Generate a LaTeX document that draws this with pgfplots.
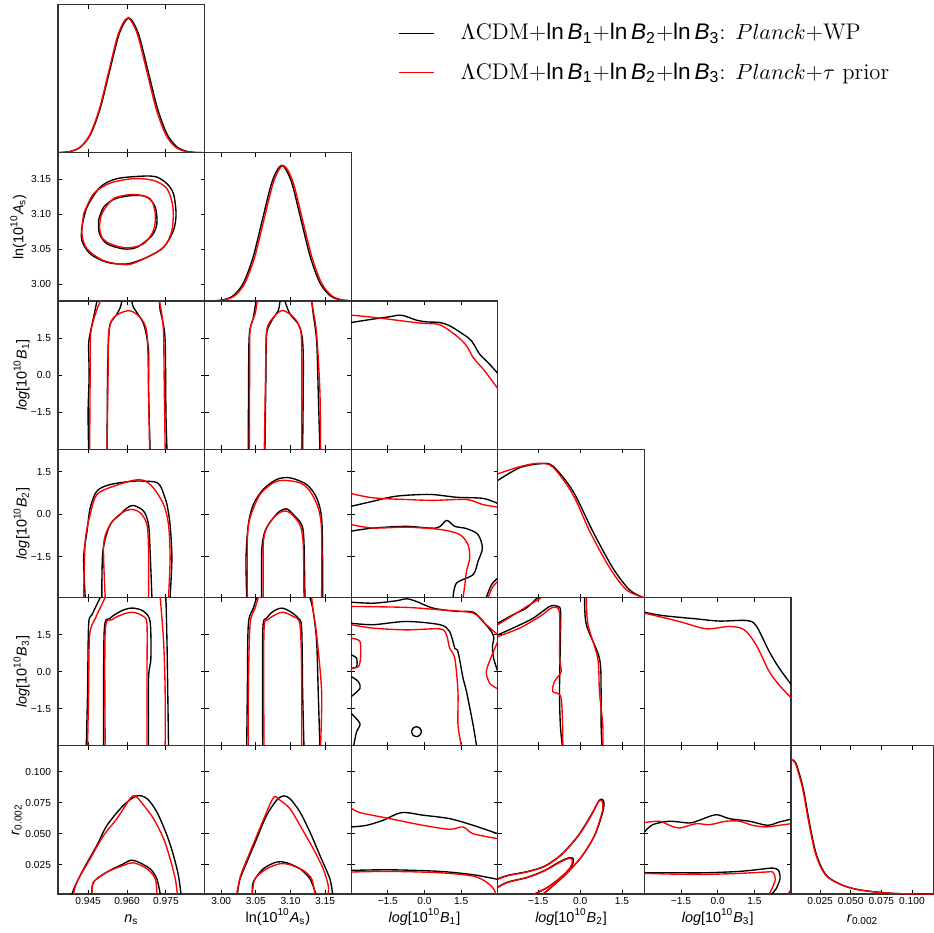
\documentclass[border=0pt]{standalone}
\usepackage{fontspec}
\setsansfont{Liberation Sans}
\usepackage{pgfplots}
\pgfplotsset{compat=1.18}
\pgfplotsset{
  tri/.style={scale only axis, width=73.3pt, height=74.125pt, anchor=north west,
    axis line style={line width=0.6pt, black!80},
    every tick/.style={black, line width=0.45pt}, major tick length=2pt,
    xticklabels={,,,,}, yticklabels={,,,,},
    tick label style={font=\sffamily\fontsize{5.1}{6}\selectfont},
    xticklabel style={yshift=2pt},
    label style={font=\sffamily\fontsize{7.2}{8.5}\selectfont},
    x label style={at={(axis description cs:0.5,-0.189)}, anchor=base}},
  ylab/.style={y label style={at={(axis description cs:#1,0.5)}, anchor=center}},
  diag/.style={tri, ymin=0, ymax=1, ytick=\empty},
  blk/.style={black, line width=0.68pt, smooth, mark=none},
  rd/.style={red, line width=0.68pt, smooth, mark=none},
  nsx/.style={xmin=0.9334, xmax=0.9899, xtick={0.945,0.960,0.975}},
  asx/.style={xmin=2.976, xmax=3.1876, xtick={3.00,3.05,3.10,3.15}},
  asy/.style={ymin=2.976, ymax=3.1876, ytick={3.00,3.05,3.10,3.15}},
  b1x/.style={xmin=-3, xmax=3, xtick={-1.5,0,1.5}},
  b1y/.style={ymin=-3, ymax=3, ytick={-1.5,0,1.5}},
  b2x/.style={xmin=-2.95, xmax=2.3, xtick={-1.5,0,1.5}},
  b2y/.style={ymin=-2.95, ymax=2.3, ytick={-1.5,0,1.5}},
  b3x/.style={xmin=-3, xmax=3, xtick={-1.5,0,1.5}},
  b3y/.style={ymin=-3, ymax=3, ytick={-1.5,0,1.5}},
  rx/.style={xmin=0.0012, xmax=0.1180, xtick={0.025,0.05,0.075,0.1}},
  ry/.style={ymin=0.0012, ymax=0.1212, ytick={0.025,0.05,0.075,0.1}},
  bl/.style={xticklabels={−1.5,0.0,1.5}},
  lb/.style={yticklabels={−1.5,0.0,1.5}},
}
\newcommand{\lnB}[1]{{\sffamily ln\,\textit{B}\textsubscript{#1}}}
\begin{document}
\begin{tikzpicture}
\path[use as bounding box] (0,0) rectangle (467pt,-466.5pt);
% ---------------- row 0
\begin{axis}[diag, at={(29pt,-2.25pt)}, nsx, ymax=1.1,
  legend style={at={(2.321,0.882)}, anchor=north west, draw=none, fill=none, inner sep=0pt,
    nodes={inner sep=0.5pt},
    font=\fontsize{11.3}{13}\selectfont, row sep=9pt, cells={anchor=west},
    /tikz/every odd column/.style={column sep=12.5pt}},
  legend image code/.code={\draw[#1, line width=0.55pt] (0pt,0pt) -- (17.5pt,0pt);}]
\addplot[blk] coordinates {(0.9334,0.0013)(0.9348,0.0022)(0.9385,0.0111)(0.9422,0.0439)(0.9459,0.1353)(0.9496,0.3247)(0.9533,0.6065)(0.9570,0.8825)(0.9607,1)(0.9644,0.8825)(0.9681,0.6065)(0.9718,0.3247)(0.9755,0.1353)(0.9792,0.0439)(0.9829,0.0111)(0.9866,0.0022)(0.9899,0.0004)};
\addlegendentry{$\Lambda$CDM+\lnB{1}+\lnB{2}+\lnB{3}: $Planck$+WP}
\addplot[rd] coordinates {(0.9333,0.001)(0.9347,0.0022)(0.9384,0.0111)(0.94205,0.0439)(0.9457,0.1353)(0.94935,0.3247)(0.9530,0.6065)(0.95665,0.8825)(0.9603,1)(0.96395,0.8825)(0.9676,0.6065)(0.97125,0.3247)(0.9749,0.1353)(0.97855,0.0439)(0.9822,0.0111)(0.98585,0.0022)(0.9895,0.0003)};
\addlegendentry{$\Lambda$CDM+\lnB{1}+\lnB{2}+\lnB{3}: $Planck$+$\tau$ prior}
\end{axis}
% ---------------- row 1
\begin{axis}[tri, at={(29pt,-76.375pt)}, nsx, asy, yticklabels={3.00,3.05,3.10,3.15},
  ylab=-0.271, ylabel={ln(10\textsuperscript{10}\textit{A}\textsubscript{s})}]
\addplot[blk] coordinates {(0.9426,3.0813)(0.9446,3.110)(0.9497,3.1386)(0.9561,3.1506)(0.9664,3.1543)(0.9715,3.1529)(0.9754,3.1434)(0.9779,3.1291)(0.9789,3.1005)(0.9779,3.0766)(0.9741,3.0527)(0.9677,3.0384)(0.9600,3.0289)(0.9523,3.0312)(0.9458,3.0433)(0.9426,3.0623)(0.9426,3.0813)};
\addplot[blk] coordinates {(0.9490,3.0909)(0.9510,3.110)(0.9555,3.122)(0.9625,3.1267)(0.9677,3.1243)(0.9709,3.110)(0.9715,3.0862)(0.9696,3.0694)(0.9638,3.0527)(0.9587,3.0504)(0.9523,3.0576)(0.9494,3.0719)(0.9490,3.0909)};
\addplot[rd] coordinates {(0.9433,3.1005)(0.9471,3.1291)(0.9535,3.1443)(0.9625,3.1506)(0.9702,3.1481)(0.9754,3.1363)(0.9777,3.1099)(0.9773,3.0766)(0.9741,3.0527)(0.9664,3.0361)(0.9600,3.0279)(0.9510,3.0337)(0.9446,3.0504)(0.9426,3.0719)(0.9433,3.1005)};
\addplot[rd] coordinates {(0.9494,3.0814)(0.9503,3.1005)(0.9548,3.122)(0.9625,3.1281)(0.9689,3.122)(0.9709,3.1005)(0.9702,3.0766)(0.9664,3.0576)(0.9600,3.0518)(0.9535,3.0576)(0.9503,3.067)(0.9494,3.0814)};
\end{axis}
\begin{axis}[diag, at={(102.3pt,-76.375pt)}, asx, ymax=1.093]
\addplot[blk] coordinates {(2.9773,0.0003)(2.9910,0.0022)(3.0048,0.0111)(3.0186,0.0439)(3.0323,0.1353)(3.0461,0.3247)(3.0598,0.6065)(3.0736,0.8825)(3.0873,1)(3.1011,0.8825)(3.1148,0.6065)(3.1286,0.3247)(3.1423,0.1353)(3.1561,0.0439)(3.1698,0.0111)(3.1836,0.0022)(3.1877,0.0013)};
\addplot[rd] coordinates {(2.9795,0.0003)(2.9933,0.0022)(3.0070,0.0111)(3.0208,0.0439)(3.0345,0.1353)(3.0483,0.3247)(3.0620,0.6065)(3.0758,0.8825)(3.0895,1)(3.1033,0.8825)(3.1170,0.6065)(3.1308,0.3247)(3.1445,0.1353)(3.1583,0.0439)(3.1720,0.0111)(3.1858,0.0022)(3.1877,0.0016)};
\end{axis}
% ---------------- row 2
\begin{axis}[tri, at={(29pt,-150.5pt)}, nsx, b1y, lb, ylab=-0.248, ylabel={\textit{log}[10\textsuperscript{10}\textit{B}\textsubscript{1}]}]
\addplot[blk] coordinates {(0.9452,-3)(0.9450,-1.5)(0.9454,0)(0.9452,1.2)(0.9458,1.7)(0.9471,2.33)(0.9484,3)};
\addplot[blk] coordinates {(0.9523,-3)(0.9525,0)(0.9529,1.39)(0.9535,2.07)(0.9561,2.47)(0.9574,2.74)(0.9580,3)};
\addplot[blk] coordinates {(0.9619,3)(0.9625,2.74)(0.9664,2.07)(0.9683,1.0)(0.9683,-0.64)(0.9689,-3)};
\addplot[blk] coordinates {(0.9754,-3)(0.9750,-1.5)(0.9747,1.39)(0.9737,2.2)(0.9728,2.61)(0.9725,3)};
\addplot[rd] coordinates {(0.9456,-3)(0.9458,0)(0.9460,1.66)(0.9478,2.47)(0.9497,3)};
\addplot[rd] coordinates {(0.9523,-3)(0.9527,0)(0.9529,1.66)(0.9548,2.33)(0.9606,2.61)(0.9651,2.33)(0.9677,1.66)(0.9683,-0.64)(0.9687,-3)};
\addplot[rd] coordinates {(0.9747,-3)(0.9743,0)(0.9741,1.66)(0.9735,2.4)(0.9725,3)};
\end{axis}
\begin{axis}[tri, at={(102.3pt,-150.5pt)}, asx, b1y]
\addplot[blk] coordinates {(3.0391,-3)(3.0395,0)(3.0406,1.66)(3.0463,2.33)(3.0502,3)};
\addplot[blk] coordinates {(3.0632,-3)(3.0645,0)(3.0656,1.66)(3.0728,2.2)(3.0823,2.61)(3.0848,3)};
\addplot[blk] coordinates {(3.0920,3)(3.0992,2.47)(3.1136,1.93)(3.1184,0.8)(3.1175,-3)};
\addplot[blk] coordinates {(3.1424,-3)(3.1400,-0.64)(3.1377,1.39)(3.1328,2.47)(3.1305,3)};
\addplot[rd] coordinates {(3.0406,-3)(3.0410,0)(3.0416,1.8)(3.0488,2.47)(3.0521,3)};
\addplot[rd] coordinates {(3.0622,-3)(3.0640,0)(3.0656,1.8)(3.0751,2.33)(3.0872,2.61)(3.0992,2.47)(3.1112,2.07)(3.1161,1.25)(3.1161,-3)};
\addplot[rd] coordinates {(3.1434,-3)(3.1424,-0.64)(3.1377,1.66)(3.1328,2.61)(3.1305,3)};
\end{axis}
\begin{axis}[diag, at={(175.6pt,-150.5pt)}, b1x]
\addplot[blk] coordinates {(-3,0.855)(-2.10,0.878)(-1.42,0.894)(-0.94,0.904)(-0.33,0.871)(0.08,0.859)(0.625,0.855)(1.03,0.833)(1.58,0.776)(1.92,0.732)(2.26,0.641)(2.6,0.585)(3,0.512)};
\addplot[rd] coordinates {(-3,0.905)(-1.83,0.885)(-0.74,0.862)(-0.06,0.849)(0.625,0.84)(1.31,0.765)(1.72,0.698)(1.99,0.619)(2.46,0.529)(3,0.409)};
\end{axis}
% ---------------- row 3
\begin{axis}[tri, at={(29pt,-224.625pt)}, nsx, b2y, lb, ylab=-0.248, ylabel={\textit{log}[10\textsuperscript{10}\textit{B}\textsubscript{2}]}]
\addplot[blk] coordinates {(0.9439,-2.95)(0.9433,-1.55)(0.9446,-0.60)(0.9458,0.22)(0.9484,0.82)(0.9535,1.05)(0.9625,1.17)(0.9690,1.16)(0.9715,1.12)(0.9730,0.98)(0.9741,0.72)(0.9754,0.34)(0.9766,-0.37)(0.9773,-1.55)(0.9766,-2.95)};
\addplot[blk] coordinates {(0.9503,-2.95)(0.9507,-1.31)(0.9535,-0.37)(0.9574,-0.01)(0.9600,0.22)(0.9625,0.31)(0.9664,0.11)(0.9683,-0.37)(0.9689,-1.31)(0.9696,-2.95)};
\addplot[rd] coordinates {(0.9433,-2.95)(0.9439,-0.96)(0.9458,-0.01)(0.9484,0.70)(0.9548,0.99)(0.9625,1.20)(0.9664,1.20)(0.9702,0.93)(0.9741,0.34)(0.9760,-0.37)(0.9766,-1.55)(0.9760,-2.95)};
\addplot[rd] coordinates {(0.9516,-2.95)(0.9510,-1.08)(0.9535,-0.37)(0.9580,0.05)(0.9619,0.17)(0.9651,0.05)(0.9677,-0.37)(0.9683,-1.31)(0.9683,-2.95)};
\end{axis}
\begin{axis}[tri, at={(102.3pt,-224.625pt)}, asx, b2y]
\addplot[blk] coordinates {(3.0368,-2.95)(3.0358,-1.55)(3.0391,-0.37)(3.0463,0.34)(3.0607,0.88)(3.0800,1.23)(3.0992,1.29)(3.1233,1.05)(3.1377,0.58)(3.1449,-0.13)(3.1463,-1.55)(3.1463,-2.95)};
\addplot[blk] coordinates {(3.0584,-2.95)(3.0584,-1.31)(3.0632,-0.60)(3.0751,-0.13)(3.0848,0.11)(3.0944,0.19)(3.1040,-0.01)(3.1161,-0.37)(3.1194,-0.96)(3.1208,-2.95)};
\addplot[rd] coordinates {(3.0377,-2.95)(3.0377,-0.96)(3.0416,-0.13)(3.0560,0.70)(3.0751,1.11)(3.0896,1.20)(3.1136,1.11)(3.1280,0.82)(3.1400,0.22)(3.1449,-0.60)(3.1449,-2.95)};
\addplot[rd] coordinates {(3.0607,-2.95)(3.0607,-1.08)(3.0656,-0.49)(3.0776,-0.07)(3.0896,0.11)(3.0992,0.05)(3.1136,-0.37)(3.1184,-1.08)(3.1194,-2.95)};
\end{axis}
\begin{axis}[tri, at={(175.6pt,-224.625pt)}, b1x, b2y]
\addplot[blk] coordinates {(-3,0.28)(-2.10,0.46)(-1.14,0.64)(0.22,0.70)(1.31,0.60)(2.39,0.56)(3,0.38)};
\addplot[blk] coordinates {(-3,-0.60)(-2.10,-0.49)(-0.74,-0.43)(0.49,-0.49)(0.90,-0.22)(1.24,-0.43)(1.72,-0.51)(2.19,-0.72)(2.37,-1.20)(2.19,-1.67)(1.99,-2.14)(1.31,-2.44)(1.17,-2.95)};
\addplot[blk] coordinates {(2.53,-2.95)(2.74,-2.50)(3,-2.26)};
\addplot[rd] coordinates {(-3,0.73)(-2.10,0.58)(-0.74,0.52)(0.35,0.49)(1.72,0.52)(2.39,0.34)(3,0.25)};
\addplot[rd] coordinates {(-3,-0.37)(-2.10,-0.49)(-0.74,-0.46)(0.63,-0.54)(1.44,-0.72)(1.78,-1.08)(1.85,-1.55)(1.72,-2.02)(1.65,-2.50)(1.58,-2.95)};
\addplot[rd] coordinates {(2.60,-2.95)(2.80,-2.56)(3,-2.38)};
\end{axis}
\begin{axis}[diag, at={(248.9pt,-224.625pt)}, b2x]
\addplot[blk] coordinates {(-2.95,0.790)(-2.17,0.875)(-1.45,0.902)(-0.98,0.887)(-0.26,0.718)(0.45,0.447)(1.17,0.199)(1.76,0.053)(2.24,0.001)(2.3,0)};
\addplot[rd] coordinates {(-2.95,0.834)(-2.17,0.882)(-1.51,0.905)(-0.98,0.880)(-0.26,0.695)(0.34,0.447)(1.06,0.199)(1.65,0.053)(2.24,0.001)(2.3,0)};
\end{axis}
% ---------------- row 4
\begin{axis}[tri, at={(29pt,-298.75pt)}, nsx, b3y, lb, ylab=-0.248, ylabel={\textit{log}[10\textsuperscript{10}\textit{B}\textsubscript{3}]}]
\addplot[blk] coordinates {(0.9443,-3)(0.9448,-0.81)(0.9452,1.90)(0.9465,2.30)(0.9497,3)};
\addplot[blk] coordinates {(0.9510,-3)(0.9512,1.62)(0.9535,2.16)(0.9587,2.50)(0.9625,2.57)(0.9664,2.44)(0.9689,2.03)(0.9692,0.54)(0.9683,-0.27)(0.9683,-3)};
\addplot[blk] coordinates {(0.9760,-3)(0.9757,-0.81)(0.9754,1.22)(0.9750,3)};
\addplot[rd] coordinates {(0.9448,-3)(0.9452,-0.81)(0.9456,1.49)(0.9478,2.16)(0.9516,3)};
\addplot[rd] coordinates {(0.9516,-3)(0.9516,1.62)(0.9542,2.10)(0.9587,2.33)(0.9625,2.40)(0.9664,2.23)(0.9677,1.90)(0.9677,-0.13)(0.9677,-3)};
\addplot[rd] coordinates {(0.9747,-3)(0.9747,-0.81)(0.9741,1.22)(0.9728,3)};
\end{axis}
\begin{axis}[tri, at={(102.3pt,-298.75pt)}, asx, b3y]
\addplot[blk] coordinates {(3.0368,-3)(3.0377,-0.81)(3.0391,1.90)(3.0463,2.57)(3.0512,3)};
\addplot[blk] coordinates {(3.0599,-3)(3.0599,1.62)(3.0656,2.16)(3.0751,2.44)(3.0872,2.57)(3.0992,2.44)(3.1112,2.16)(3.1161,1.76)(3.1175,-0.81)(3.1194,-3)};
\addplot[blk] coordinates {(3.1424,-3)(3.1400,-0.81)(3.1377,1.22)(3.1328,2.44)(3.1280,3)};
\addplot[rd] coordinates {(3.0391,-3)(3.0391,-0.81)(3.0416,1.90)(3.0488,2.57)(3.0535,3)};
\addplot[rd] coordinates {(3.0617,-3)(3.0617,1.62)(3.0679,2.10)(3.0800,2.33)(3.0896,2.40)(3.1040,2.23)(3.1136,1.90)(3.1161,-0.13)(3.1161,-3)};
\addplot[rd] coordinates {(3.1434,-3)(3.1449,-0.81)(3.1377,1.49)(3.1328,2.44)(3.1305,3)};
\end{axis}
\begin{axis}[tri, at={(175.6pt,-298.75pt)}, b1x, b3y]
\addplot[blk] coordinates {(-3,2.81)(-2.10,2.77)(-1.14,2.87)(-0.74,2.95)(-0.33,2.84)(0.35,2.57)(1.31,2.44)(1.99,2.41)(2.39,2.03)(2.74,1.62)(2.84,1.35)(2.78,1.02)(2.83,0.54)(3,0.00)};
\addplot[blk] coordinates {(-3,1.96)(-2.10,1.90)(-0.74,2.03)(0.63,1.90)(1.03,1.62)(1.24,0.95)(1.37,0.81)(1.58,-0.27)(1.72,-0.81)(1.99,-2.16)(2.13,-3)};
\addplot[blk] coordinates {(-3,0.68)(-2.78,0.54)(-2.78,0.20)(-3,0.14)};
\addplot[blk] coordinates {(-3,-0.20)(-2.71,-0.40)(-2.64,-0.68)(-3,-1.01)};
\addplot[blk] coordinates {(-3,-1.69)(-2.64,-2.10)(-2.78,-2.43)(-2.90,-3)};
\addplot[blk] coordinates {(-0.53,-2.43)(-0.47,-2.29)(-0.33,-2.23)(-0.19,-2.29)(-0.13,-2.43)(-0.19,-2.57)(-0.33,-2.63)(-0.47,-2.57)(-0.53,-2.43)};
\addplot[rd] coordinates {(-3,2.64)(-0.74,2.60)(0.63,2.50)(1.99,2.37)(2.53,1.90)(3,1.49)};
\addplot[rd] coordinates {(3,1.22)(2.74,0.61)(2.53,0.00)(2.67,-0.47)(3,-0.70)};
\addplot[rd] coordinates {(-3,1.90)(-2.10,1.76)(-0.74,1.69)(0.63,1.73)(0.90,1.49)(1.03,0.95)(1.24,0.54)(1.37,-0.81)(1.37,-2.16)(1.51,-3)};
\addplot[rd] coordinates {(-3,1.35)(-2.64,1.22)(-2.62,0.54)(-2.71,0.20)(-3,0.14)};
\end{axis}
\begin{axis}[tri, at={(248.9pt,-298.75pt)}, b2x, b3y]
\addplot[blk] coordinates {(-2.95,1.49)(-2.41,1.76)(-1.69,2.16)(-1.09,2.64)(-0.80,2.64)(-0.70,2.44)(-0.71,1.22)(-0.74,-0.81)(-0.71,-2.16)(-0.64,-3)};
\addplot[blk] coordinates {(-2.95,1.96)(-2.41,2.30)(-1.93,2.57)(-1.57,2.95)(-1.5,3)};
\addplot[blk] coordinates {(0.16,3)(0.22,1.90)(0.69,0.54)(0.75,-0.81)(0.75,-2.16)(0.78,-3)};
\addplot[rd] coordinates {(-2.95,1.42)(-2.17,1.76)(-1.45,2.23)(-0.98,2.60)(-0.74,2.37)(-0.74,0.54)(-0.68,0.00)(-0.92,-0.40)(-0.98,-0.81)(-0.68,-1.08)(-0.62,-3)};
\addplot[rd] coordinates {(-2.95,1.90)(-2.28,2.37)(-1.81,2.71)(-1.45,2.95)(-1.4,3)};
\addplot[rd] coordinates {(0.22,3)(0.28,1.90)(0.63,0.54)(0.69,-0.81)(0.81,-2.16)(0.81,-3)};
\end{axis}
\begin{axis}[diag, at={(322.2pt,-298.75pt)}, b3x]
\addplot[blk] coordinates {(-3,0.901)(-2.25,0.878)(-0.88,0.856)(0.07,0.841)(1.16,0.845)(1.57,0.811)(2.11,0.635)(2.52,0.523)(3,0.415)};
\addplot[rd] coordinates {(-3,0.895)(-1.57,0.838)(-0.47,0.789)(0.48,0.805)(1.09,0.782)(1.57,0.681)(2.11,0.5)(2.52,0.409)(3,0.324)};
\end{axis}
% ---------------- row 5
\begin{axis}[tri, at={(29pt,-372.875pt)}, nsx, ry, yticklabels={0.025,0.050,0.075,0.100}, xticklabels={0.945,0.960,0.975},
  ylab=-0.282, ylabel={\textit{r}\textsubscript{0.002}}, xlabel={\textit{n}\textsubscript{s}}]
\addplot[blk] coordinates {(0.9388,0.0012)(0.9401,0.0082)(0.9433,0.0216)(0.9484,0.0406)(0.9523,0.0568)(0.9587,0.0731)(0.9638,0.0806)(0.9677,0.0784)(0.9715,0.0676)(0.9754,0.0487)(0.9779,0.0325)(0.9798,0.0163)(0.9808,0.0012)};
\addplot[blk] coordinates {(0.9465,0.0012)(0.9471,0.0109)(0.9523,0.0190)(0.9587,0.0257)(0.9612,0.0284)(0.9638,0.0276)(0.9689,0.0216)(0.9715,0.0135)(0.9728,0.0012)};
\addplot[rd] coordinates {(0.9394,0.0012)(0.9407,0.0109)(0.9458,0.0298)(0.9510,0.0487)(0.9561,0.0622)(0.9612,0.0784)(0.9632,0.0806)(0.9664,0.0731)(0.9702,0.0622)(0.9741,0.0460)(0.9766,0.0298)(0.9786,0.0135)(0.9794,0.0012)};
\addplot[rd] coordinates {(0.9465,0.0012)(0.9471,0.0109)(0.9523,0.0190)(0.9587,0.0244)(0.9625,0.0265)(0.9677,0.0216)(0.9709,0.0135)(0.9715,0.0012)};
\end{axis}
\begin{axis}[tri, at={(102.3pt,-372.875pt)}, asx, ry, xticklabels={3.00,3.05,3.10,3.15},
  xlabel={ln(10\textsuperscript{10}\textit{A}\textsubscript{s})}]
\addplot[blk] coordinates {(3.0233,0.0012)(3.0272,0.0135)(3.0391,0.0298)(3.0512,0.0460)(3.0656,0.0650)(3.0800,0.0771)(3.0896,0.0806)(3.0992,0.0784)(3.1136,0.0676)(3.1280,0.0514)(3.1424,0.0325)(3.1568,0.0135)(3.1607,0.0012)};
\addplot[blk] coordinates {(3.0449,0.0012)(3.0463,0.0109)(3.0607,0.0216)(3.0800,0.0271)(3.0944,0.0265)(3.1136,0.0216)(3.1280,0.0135)(3.1367,0.0012)};
\addplot[rd] coordinates {(3.0224,0.0012)(3.0281,0.0163)(3.0416,0.0352)(3.0535,0.0514)(3.0656,0.0676)(3.0762,0.0798)(3.0848,0.0771)(3.0992,0.0703)(3.1136,0.0568)(3.1328,0.0379)(3.1472,0.0216)(3.1544,0.0082)(3.1544,0.0012)};
\addplot[rd] coordinates {(3.0449,0.0012)(3.0488,0.0135)(3.0656,0.0216)(3.0848,0.0257)(3.0992,0.0249)(3.1184,0.0203)(3.1305,0.0135)(3.1352,0.0012)};
\end{axis}
\begin{axis}[tri, at={(175.6pt,-372.875pt)}, b1x, ry, bl,
  xlabel={\textit{log}[10\textsuperscript{10}\textit{B}\textsubscript{1}]}]
\addplot[blk] coordinates {(-3,0.0555)(-2.37,0.0568)(-1.69,0.0609)(-0.94,0.0671)(-0.06,0.0650)(1.03,0.0622)(1.99,0.0568)(3,0.0500)};
\addplot[blk] coordinates {(-3,0.0203)(-1.42,0.0208)(0.63,0.0195)(1.99,0.0168)(3,0.0130)};
\addplot[rd] coordinates {(-3,0.0709)(-2.64,0.0671)(-1.42,0.0622)(-0.06,0.0568)(1.03,0.0536)(1.58,0.0555)(1.99,0.0500)(3,0.0460)};
\addplot[rd] coordinates {(-3,0.0190)(-1.42,0.0195)(0.63,0.0184)(1.99,0.0157)(2.53,0.0109)(2.83,0.0054)(2.91,0.0012)};
\end{axis}
\begin{axis}[tri, at={(248.9pt,-372.875pt)}, b2x, ry, bl,
  xlabel={\textit{log}[10\textsuperscript{10}\textit{B}\textsubscript{2}]}]
\addplot[blk] coordinates {(-2.95,0.0135)(-2.59,0.0163)(-1.87,0.0195)(-1.27,0.0238)(-0.68,0.0330)(-0.08,0.0482)(0.40,0.0654)(0.66,0.0763)(0.78,0.0779)(0.85,0.0752)(0.81,0.0676)(0.52,0.0487)(0.04,0.0311)(-0.56,0.0163)(-1.03,0.0068)(-1.31,0.0012)};
\addplot[blk] coordinates {(-2.95,0.0068)(-2.59,0.0109)(-1.87,0.0149)(-1.27,0.0203)(-0.80,0.0265)(-0.50,0.0298)(-0.30,0.0306)(-0.24,0.0284)(-0.32,0.0230)(-0.68,0.0149)(-1.15,0.0068)(-1.63,0.0012)};
\addplot[rd] coordinates {(-2.95,0.0130)(-2.59,0.0160)(-1.87,0.0192)(-1.27,0.0235)(-0.68,0.0327)(-0.08,0.0478)(0.40,0.0648)(0.64,0.0755)(0.75,0.0770)(0.81,0.0745)(0.78,0.0670)(0.50,0.0480)(0.02,0.0305)(-0.58,0.0157)(-1.05,0.0065)(-1.33,0.0012)};
\addplot[rd] coordinates {(-2.95,0.0065)(-2.59,0.0106)(-1.87,0.0146)(-1.27,0.0200)(-0.80,0.0260)(-0.52,0.0292)(-0.33,0.0300)(-0.28,0.0280)(-0.35,0.0228)(-0.70,0.0146)(-1.17,0.0066)(-1.65,0.0012)};
\end{axis}
\begin{axis}[tri, at={(322.2pt,-372.875pt)}, b3x, ry, bl,
  xlabel={\textit{log}[10\textsuperscript{10}\textit{B}\textsubscript{3}]}]
\addplot[blk] coordinates {(-3,0.0514)(-2.66,0.0573)(-1.97,0.0601)(-1.16,0.0587)(-0.75,0.0609)(-0.07,0.0654)(0.48,0.0622)(1.30,0.0601)(2.04,0.0568)(2.52,0.0595)(3,0.0617)};
\addplot[blk] coordinates {(-3,0.0184)(-1.84,0.0184)(-0.47,0.0184)(0.89,0.0195)(1.70,0.0211)(2.25,0.0222)(2.49,0.0203)(2.55,0.0135)(2.39,0.0054)(2.22,0.0012)};
\addplot[rd] coordinates {(-3,0.0590)(-2.38,0.0601)(-1.97,0.0568)(-1.57,0.0546)(-0.88,0.0581)(-0.34,0.0573)(0.34,0.0601)(0.89,0.0601)(1.43,0.0568)(1.98,0.0555)(2.52,0.0568)(3,0.0581)};
\addplot[rd] coordinates {(-3,0.0179)(-1.84,0.0173)(-0.47,0.0171)(0.89,0.0179)(1.98,0.0190)(2.25,0.0190)(2.36,0.0135)(2.25,0.0068)(2.11,0.0012)};
\addplot[rd] coordinates {(2.88,0.0012)(3,0.0050)};
\end{axis}
\begin{axis}[diag, at={(395.5pt,-372.875pt)}, width=71.5pt, rx, xticklabels={0.025,0.050,0.075,0.100},
  xlabel={\textit{r}\textsubscript{0.002}}]
\addplot[blk] coordinates {(0.0017,0.903)(0.0030,0.903)(0.0058,0.870)(0.0112,0.711)(0.0166,0.465)(0.0221,0.262)(0.0302,0.125)(0.0438,0.058)(0.0601,0.024)(0.0873,0.003)(0.1180,0)};
\addplot[rd] coordinates {(0.0012,0.903)(0.0025,0.903)(0.0053,0.870)(0.0107,0.711)(0.0161,0.465)(0.0216,0.262)(0.0297,0.125)(0.0433,0.058)(0.0596,0.024)(0.0868,0.003)(0.1180,0)};
\end{axis}
\end{tikzpicture}
\end{document}
